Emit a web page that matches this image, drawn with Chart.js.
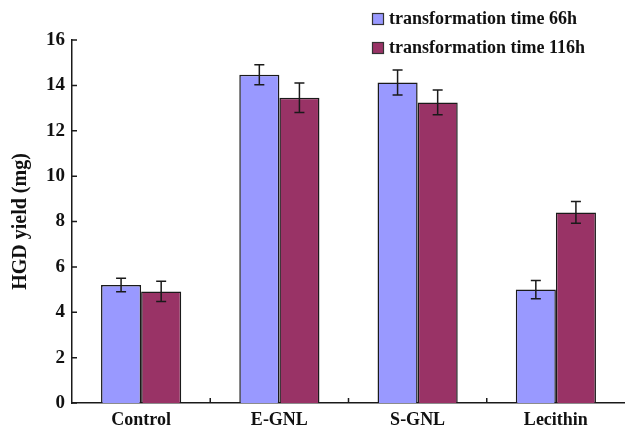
<!DOCTYPE html>
<html>
<head>
<meta charset="utf-8">
<script src="https://cdn.jsdelivr.net/npm/chart.js@4.4.1/dist/chart.umd.min.js"></script>
<style>
  html, body { margin: 0; padding: 0; background: #ffffff; }
  #wrap { width: 625px; height: 429px; position: relative; }
</style>
</head>
<body>
<div id="wrap"><canvas id="c" width="625" height="429"></canvas></div>
<script>
// HGD yield by additive, two transformation times
const categories = ['Control', 'E-GNL', 'S-GNL', 'Lecithin'];
const seriesLabels = ['transformation time 66h', 'transformation time 116h'];
const yield66 = [5.2, 14.47, 14.13, 5.0];
const err66 = [0.3, 0.44, 0.55, 0.4];
const yield116 = [4.92, 13.45, 13.25, 8.4];
const err116 = [0.45, 0.65, 0.55, 0.48];
const yTicks = [0, 2, 4, 6, 8, 10, 12, 14, 16];

const SERIF = '"Liberation Serif", "Times New Roman", serif';
const errors = [err66, err116];

// error bars drawn from the bar values through the chart's scales
const errorBarPlugin = {
  id: 'errorBars',
  afterDatasetsDraw(chart) {
    const ctx = chart.ctx;
    const y = chart.scales.y;
    ctx.save();
    ctx.strokeStyle = '#1a1a1a';
    ctx.lineWidth = 1.5;
    chart.data.datasets.forEach((ds, di) => {
      const meta = chart.getDatasetMeta(di);
      meta.data.forEach((bar, i) => {
        const v = ds.data[i];
        const e = errors[di][i];
        const x = bar.x;
        const yt = y.getPixelForValue(v + e);
        const yb = y.getPixelForValue(v - e);
        ctx.beginPath();
        ctx.moveTo(x, yt); ctx.lineTo(x, yb);
        ctx.moveTo(x - 5, yt); ctx.lineTo(x + 5, yt);
        ctx.moveTo(x - 5, yb); ctx.lineTo(x + 5, yb);
        ctx.stroke();
      });
    });
    ctx.restore();
  }
};

// short tick marks pointing into the plot area, plus the legend
const axisDecorPlugin = {
  id: 'axisDecor',
  afterDraw(chart) {
    const ctx = chart.ctx;
    const xs = chart.scales.x, ys = chart.scales.y;
    const area = chart.chartArea;
    ctx.save();
    ctx.strokeStyle = '#1a1a1a';
    ctx.lineWidth = 1.5;
    ctx.beginPath();
    yTicks.forEach(t => {
      const py = ys.getPixelForValue(t);
      ctx.moveTo(area.left, py);
      ctx.lineTo(area.left + 5, py);
    });
    for (let i = 1; i < categories.length; i++) {
      const px = (xs.getPixelForValue(i - 1) + xs.getPixelForValue(i)) / 2;
      ctx.moveTo(px, area.bottom);
      ctx.lineTo(px, area.bottom - 5);
    }
    ctx.stroke();

    // legend
    const items = chart.data.datasets;
    const bx = 372, by = [13, 42];
    ctx.font = 'bold 18px ' + SERIF;
    ctx.textBaseline = 'middle';
    ctx.textAlign = 'left';
    items.forEach((ds, i) => {
      ctx.fillStyle = ds.backgroundColor;
      ctx.fillRect(bx, by[i], 12, 12);
      ctx.lineWidth = 1.2;
      ctx.strokeStyle = '#333';
      ctx.strokeRect(bx + 0.5, by[i] + 0.5, 11, 11);
      ctx.fillStyle = '#111';
      ctx.fillText(ds.label, bx + 17, by[i] + 6);
    });
    ctx.restore();
  }
};

new Chart(document.getElementById('c'), {
  type: 'bar',
  data: {
    labels: categories,
    datasets: [
      {
        label: seriesLabels[0],
        data: yield66,
        backgroundColor: '#9999FF',
        borderColor: '#1a1a1a',
        borderWidth: 1.5,
        barPercentage: 1.0,
        categoryPercentage: 0.58
      },
      {
        label: seriesLabels[1],
        data: yield116,
        backgroundColor: '#993366',
        borderColor: '#1a1a1a',
        borderWidth: 1.5,
        barPercentage: 1.0,
        categoryPercentage: 0.58
      }
    ]
  },
  options: {
    responsive: false,
    animation: false,
    devicePixelRatio: 1,
    layout: { padding: { top: 40, right: 0, left: 0, bottom: 0 } },
    plugins: {
      legend: { display: false },
      tooltip: { enabled: false }
    },
    scales: {
      x: {
        grid: { display: false, drawTicks: false },
        border: { display: true, color: '#1a1a1a', width: 1.5 },
        ticks: {
          color: '#111',
          padding: 7,
          font: { family: SERIF, size: 18, weight: 'bold' }
        },
        afterFit(scale) { scale.height = 26; }
      },
      y: {
        min: 0,
        max: 16,
        afterBuildTicks(scale) { scale.ticks = yTicks.map(v => ({ value: v })); },
        grid: { display: false, drawTicks: false },
        border: { display: true, color: '#1a1a1a', width: 1.5 },
        ticks: {
          color: '#111',
          padding: 7,
          font: { family: SERIF, size: 19, weight: 'bold' }
        },
        title: {
          display: true,
          text: 'HGD yield (mg)',
          color: '#111',
          padding: { top: 9, bottom: 0 },
          font: { family: SERIF, size: 20, weight: 'bold' }
        },
        afterFit(scale) { scale.width = 72; }
      }
    }
  },
  plugins: [errorBarPlugin, axisDecorPlugin]
});
</script>
</body>
</html>
